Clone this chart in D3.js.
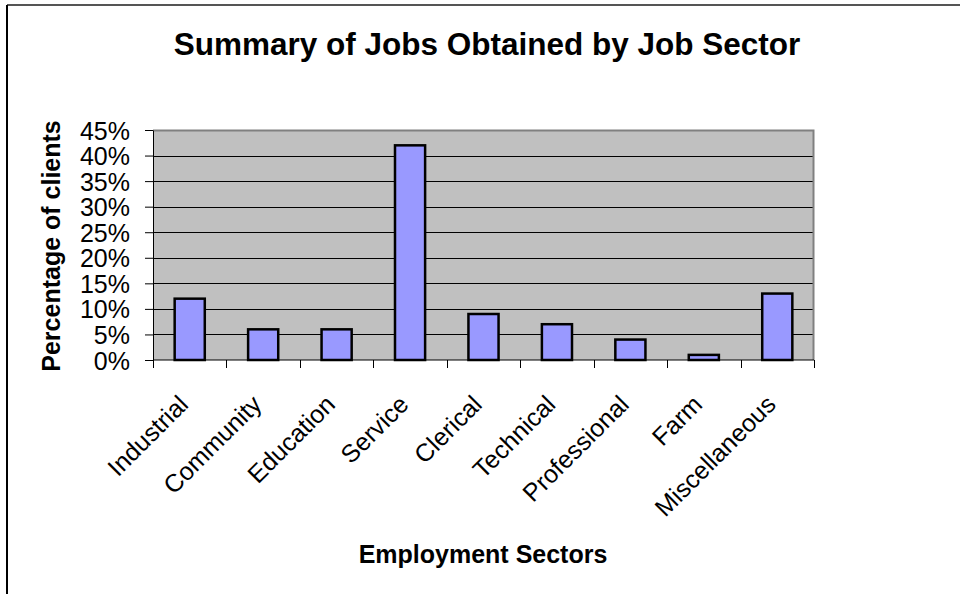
<!DOCTYPE html>
<html>
<head>
<meta charset="utf-8">
<script src="https://cdn.jsdelivr.net/npm/d3@7"></script>
<style>
  body { margin: 0; background: #fff; }
  svg { display: block; font-family: "Liberation Sans", Arial, sans-serif; }
</style>
</head>
<body>
<svg id="chart" width="960" height="594"></svg>
<script>
var categories = ["Industrial", "Community", "Education", "Service", "Clerical", "Technical", "Professional", "Farm", "Miscellaneous"];
var values = [0.12, 0.06, 0.06, 0.42, 0.09, 0.07, 0.04, 0.01, 0.13];
var yTicks = [0, 0.05, 0.10, 0.15, 0.20, 0.25, 0.30, 0.35, 0.40, 0.45];

var svg = d3.select("#chart"),
	margin = {top: 130, right: 146, bottom: 234, left: 153},
	width = +svg.attr("width") - margin.left - margin.right,
	height = +svg.attr("height") - margin.top - margin.bottom;

// outer frame (top + left only, as in the original)
svg.append("line").attr("x1", 7).attr("y1", 5).attr("x2", 960).attr("y2", 5)
	.attr("stroke", "#555").attr("stroke-width", 2);
svg.append("line").attr("x1", 7).attr("y1", 5).attr("x2", 7).attr("y2", 594)
	.attr("stroke", "#000").attr("stroke-width", 2);

var x = d3.scaleBand().domain(categories).range([0, width]).paddingInner(0.59).paddingOuter(0.295);
var xEdge = d3.scaleLinear().domain([0, categories.length]).range([0, width]);
var y = d3.scaleLinear().domain([0, 0.45]).range([height, 0]);

var g = svg.append("g")
	.attr("transform", "translate(" + margin.left + "," + margin.top + ")");

g.append("rect")
	.attr("width", width).attr("height", height)
	.attr("fill", "#c0c0c0");

// gridlines
g.selectAll(".grid")
	.data(yTicks.slice(1, -1))
  .enter().append("line")
	.attr("class", "grid")
	.attr("x1", 0).attr("x2", width)
	.attr("y1", function(d) { return Math.round(y(d)) + 0.5; })
	.attr("y2", function(d) { return Math.round(y(d)) + 0.5; })
	.attr("stroke", "#000").attr("stroke-width", 1);

// plot border top/right
g.append("path")
	.attr("d", "M0,0.5H" + (width - 0.5) + "V" + height)
	.attr("fill", "none").attr("stroke", "#808080").attr("stroke-width", 2);

g.selectAll(".bar")
	.data(values)
  .enter().append("rect")
	.attr("class", "bar")
	.attr("x", function(d, i) { return x(categories[i]); })
	.attr("width", x.bandwidth())
	.attr("y", function(d) { return y(d); })
	.attr("height", function(d) { return height - y(d); })
	.attr("fill", "#9999ff")
	.attr("stroke", "#000")
	.attr("stroke-width", 2.5);

// y axis
var yAxis = g.append("g")
	.call(d3.axisLeft(y).tickValues(yTicks).tickFormat(d3.format(".0%")).tickSize(8).tickSizeOuter(0));
yAxis.select(".domain").attr("stroke", "#000");
yAxis.selectAll("text")
	.attr("x", -23)
	.attr("dy", "0.36em")
	.style("font-size", "25px")
	.style("font-family", "'Liberation Sans', Arial, sans-serif")
	.style("fill", "#000");

// x axis: line + ticks at category edges
var xAxis = g.append("g").attr("transform", "translate(0," + height + ")");
xAxis.append("line").attr("x1", 0).attr("x2", width).attr("stroke", "#000").attr("stroke-width", 1);
xAxis.selectAll(".tick")
	.data(d3.range(categories.length + 1))
  .enter().append("line")
	.attr("x1", function(d) { return Math.round(xEdge(d)) + 0.5; })
	.attr("x2", function(d) { return Math.round(xEdge(d)) + 0.5; })
	.attr("y1", 0).attr("y2", 8)
	.attr("stroke", "#000");

xAxis.selectAll(".lbl")
	.data(categories)
  .enter().append("text")
	.attr("class", "lbl")
	.attr("transform", function(d) {
		return "translate(" + (x(d) + x.bandwidth() / 2) + ",46) rotate(-45)";
	})
	.attr("text-anchor", "end")
	.style("font-size", "25px")
	.text(function(d) { return d; });

// titles
svg.append("text")
	.attr("x", 487).attr("y", 55)
	.attr("text-anchor", "middle")
	.style("font-size", "31.5px").style("font-weight", "bold")
	.text("Summary of Jobs Obtained by Job Sector");

svg.append("text")
	.attr("x", 483).attr("y", 563)
	.attr("text-anchor", "middle")
	.style("font-size", "25px").style("font-weight", "bold")
	.text("Employment Sectors");

svg.append("text")
	.attr("transform", "translate(60,246) rotate(-90)")
	.attr("text-anchor", "middle")
	.style("font-size", "25px").style("font-weight", "bold")
	.text("Percentage of clients");
</script>
</body>
</html>
